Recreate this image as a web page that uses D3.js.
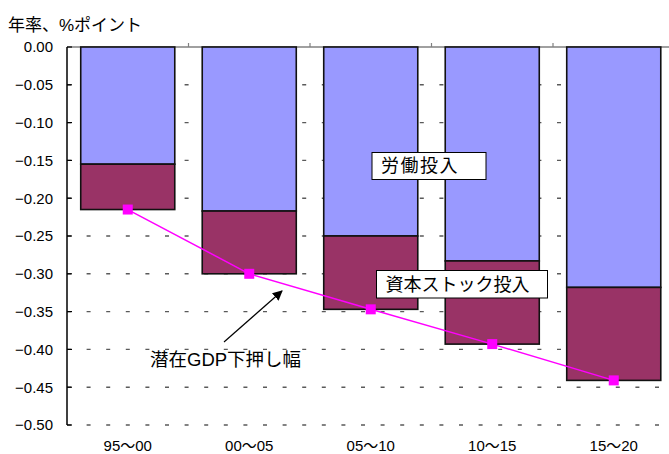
<!DOCTYPE html>
<html>
<head>
<meta charset="utf-8">
<script src="https://cdn.jsdelivr.net/npm/d3@7"></script>
<style>
  html, body { margin: 0; padding: 0; background: #fff; }
  svg { display: block; }
  text { font-family: "Liberation Sans", Arial, "Noto Sans CJK JP", sans-serif; }
</style>
</head>
<body>
<svg id="chart" width="669" height="454"></svg>
<script>
// Contribution to the decline in potential growth (annual rate, % points)
const categories = ["95〜00", "00〜05", "05〜10", "10〜15", "15〜20"];
const laborInput = [-0.155, -0.217, -0.250, -0.283, -0.318];
const capitalInput = [-0.060, -0.083, -0.097, -0.110, -0.123];
const totalDrag = [-0.215, -0.300, -0.347, -0.393, -0.441];
const yTicks = [0, -0.05, -0.10, -0.15, -0.20, -0.25, -0.30, -0.35, -0.40, -0.45, -0.50];

const svg = d3.select("#chart");
const plotLeft = 67, plotTop = 47, plotBottom = 425, bandRight = 674.5, clipRight = 669;

const x = d3.scaleBand().domain(categories).range([plotLeft, bandRight])
  .paddingInner(0.226).paddingOuter(0.113);
const y = d3.scaleLinear().domain([0, -0.5]).range([plotTop, plotBottom]);
const fmt = d3.format(".2f");

// dashed horizontal gridlines
svg.append("g").selectAll("line").data(yTicks.filter(d => d !== 0)).join("line")
  .attr("x1", plotLeft).attr("x2", clipRight)
  .attr("y1", d => y(d)).attr("y2", d => y(d))
  .attr("stroke", "#5a5a5a").attr("stroke-width", 1.4)
  .attr("stroke-dasharray", "4 15.6");

// zero line with category boundary ticks
svg.append("line").attr("x1", plotLeft).attr("x2", clipRight)
  .attr("y1", y(0)).attr("y2", y(0))
  .attr("stroke", "#808080").attr("stroke-width", 1.5);
const step = x.step();
svg.append("g").selectAll("line").data(d3.range(1, categories.length)).join("line")
  .attr("x1", i => plotLeft + i * step).attr("x2", i => plotLeft + i * step)
  .attr("y1", y(0) - 4).attr("y2", y(0))
  .attr("stroke", "#808080").attr("stroke-width", 1.2);

// stacked bars
const rows = categories.map((c, i) => ({ c, labor: laborInput[i], capital: capitalInput[i] }));
const gBars = svg.append("g");
rows.forEach(r => {
  gBars.append("rect")
    .attr("x", x(r.c)).attr("width", x.bandwidth())
    .attr("y", y(0)).attr("height", y(r.labor) - y(0))
    .attr("fill", "#9999ff").attr("stroke", "#111").attr("stroke-width", 1.6);
  gBars.append("rect")
    .attr("x", x(r.c)).attr("width", x.bandwidth())
    .attr("y", y(r.labor)).attr("height", y(r.labor + r.capital) - y(r.labor))
    .attr("fill", "#993366").attr("stroke", "#111").attr("stroke-width", 1.6);
});

// y axis
const yAxis = svg.append("g");
yAxis.append("line").attr("x1", plotLeft).attr("x2", plotLeft).attr("y1", plotTop).attr("y2", plotBottom)
  .attr("stroke", "#000").attr("stroke-width", 1.5);
yAxis.selectAll("line.tick").data(yTicks).join("line").attr("class", "tick")
  .attr("x1", plotLeft).attr("x2", plotLeft + 5)
  .attr("y1", d => y(d)).attr("y2", d => y(d))
  .attr("stroke", "#000").attr("stroke-width", 1.2);
yAxis.selectAll("text").data(yTicks).join("text")
  .attr("x", 53).attr("y", d => y(d)).attr("dy", "0.36em")
  .attr("text-anchor", "end").attr("font-size", 15).attr("fill", "#000")
  .text(d => fmt(d));

// category labels
svg.append("g").selectAll("text").data(categories).join("text")
  .attr("x", d => x(d) + x.bandwidth() / 2).attr("y", 451)
  .attr("text-anchor", "middle").attr("font-size", 15)
  .text(d => d);

// axis title
svg.append("text").attr("x", 8).attr("y", 31).attr("font-size", 17)
  .attr("font-family", "'Noto Sans CJK JP', sans-serif").text("年率、%ポイント");

// total line with square markers
const cx = c => x(c) + x.bandwidth() / 2;
const line = d3.line().x((d, i) => cx(categories[i])).y(d => y(d));
svg.append("path").datum(totalDrag).attr("d", line)
  .attr("fill", "none").attr("stroke", "#ff00ff").attr("stroke-width", 1.5);
svg.append("g").selectAll("rect").data(totalDrag).join("rect")
  .attr("x", (d, i) => cx(categories[i]) - 5).attr("y", d => y(d) - 5)
  .attr("width", 10).attr("height", 10).attr("fill", "#ff00ff");

// annotation boxes
function boxLabel(bx, by, bw, bh, label, spacing) {
  svg.append("rect").attr("x", bx).attr("y", by).attr("width", bw).attr("height", bh)
    .attr("fill", "#fff").attr("stroke", "#000").attr("stroke-width", 1);
  svg.append("text").attr("x", bx + 9).attr("y", by + bh / 2).attr("dy", "0.36em")
    .attr("font-size", 18).attr("letter-spacing", spacing)
    .attr("font-family", "'Noto Sans CJK JP', sans-serif")
    .text(label);
}
boxLabel(372, 152.5, 114, 27, "労働投入", 1.5);
boxLabel(376.5, 270.5, 171, 27.5, "資本ストック投入", 0);

// arrow to the line
svg.append("defs").append("marker").attr("id", "head")
  .attr("viewBox", "0 0 10 10").attr("refX", 9).attr("refY", 5)
  .attr("markerWidth", 10).attr("markerHeight", 10).attr("markerUnits", "userSpaceOnUse")
  .attr("orient", "auto")
  .append("path").attr("d", "M0,0 L10,5 L0,10 Z").attr("fill", "#000");
svg.append("line").attr("x1", 224).attr("y1", 342).attr("x2", 282).attr("y2", 291)
  .attr("stroke", "#000").attr("stroke-width", 1.2).attr("marker-end", "url(#head)");
svg.append("text").attr("x", 150).attr("y", 366).attr("font-size", 18.5)
  .attr("font-family", "'Noto Sans CJK JP', sans-serif").text("潜在GDP下押し幅");
</script>
</body>
</html>
